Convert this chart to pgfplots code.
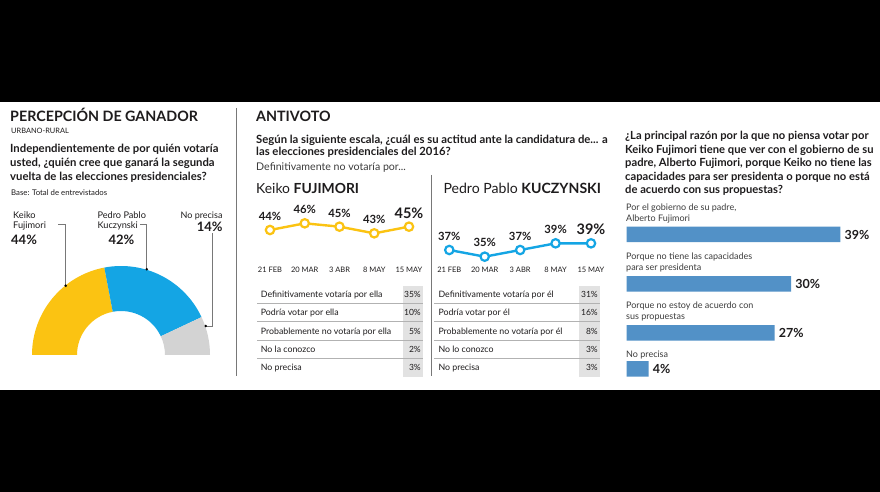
\documentclass[border=0pt]{standalone}
\usepackage{pgfplots}
\pgfplotsset{compat=1.18}
\pgfplotsset{every axis/.append style={/pgf/number format/assume math mode=true}}
\usepackage{pgfplotstable}
\usepackage{fontspec}
\setmainfont{Lato}
\definecolor{kyellow}{RGB}{251,195,18}
\definecolor{pblue}{RGB}{20,165,228}
\definecolor{ngray}{RGB}{211,211,211}
\definecolor{barblue}{RGB}{82,145,199}
\definecolor{txt}{RGB}{30,28,29}
\definecolor{sub}{RGB}{60,60,60}
\definecolor{cellgray}{RGB}{226,226,226}
\definecolor{rulegray}{RGB}{178,178,178}
\definecolor{sepgray}{RGB}{120,120,120}
\newcommand\fs[1]{\fontsize{#1}{#1}\selectfont}

\pgfplotstableread{
name val
Keiko 44
PPK 42
NoPrecisa 14
}\ganador
\pgfplotstableread{
idx val
0 44
1 46
2 45
3 43
4 45
}\keikoline
\pgfplotstableread{
idx val
0 37
1 35
2 37
3 39
4 39
}\ppkline
\pgfplotstableread{
pos val
234.5 39
283.8 30
332.8 27
368.8 4
}\razones

\begin{document}
\begin{tikzpicture}[x=1pt,y=1pt, lbl/.style={anchor=base west, inner sep=0pt, text=txt}, lblr/.style={anchor=base east, inner sep=0pt, text=txt}]
\path[use as bounding box] (0,0) rectangle (880,492);
\fill[black] (0,0) rectangle (880,492);
\fill[white] (0,102) rectangle (880,390);

% ================= LEFT: PERCEPCION DE GANADOR
\node[lbl, font=\fs{14.3}\bfseries] at (10,370) {PERCEPCIÓN DE GANADOR};
\node[lbl, font=\fs{7.4}] at (11,358) {URBANO-RURAL};
\node[lbl, font=\fs{11.3}\bfseries] at (10,339.5) {Independientemente de por quién votaría};
\node[lbl, font=\fs{11.3}\bfseries] at (10,325.5) {usted, ¿quién cree que ganará la segunda};
\node[lbl, font=\fs{11.3}\bfseries] at (10,311.5) {vuelta de las elecciones presidenciales?};
\node[lbl, font=\fs{7.8}] at (11,296) {Base: Total de entrevistados};

\node[lbl, font=\fs{9.2}] at (13,273) {Keiko};
\node[lbl, font=\fs{9.2}] at (13,263.7) {Fujimori};
\node[lbl, font=\fs{13}\bfseries] at (11,247) {44\%};
\node[lbl, font=\fs{9.2}] at (97.3,273) {Pedro Pablo};
\node[lbl, font=\fs{9.2}] at (97.3,263.7) {Kuczynski};
\node[lbl, font=\fs{13}\bfseries] at (108.3,247) {42\%};
\node[lblr, font=\fs{9}] at (222.7,273.7) {No precisa};
\node[lblr, font=\fs{13}\bfseries] at (222.7,260.3) {14\%};

\pgfplotstablegetelem{0}{val}\of\ganador \let\vK\pgfplotsretval
\pgfplotstablegetelem{1}{val}\of\ganador \let\vP\pgfplotsretval
\pgfplotstablegetelem{2}{val}\of\ganador \let\vN\pgfplotsretval
\begin{axis}[at={(32pt,137pt)}, anchor=south west, scale only axis,
  width=178pt, height=89pt, xmin=-1, xmax=1, ymin=0, ymax=1,
  hide axis, clip=false]
  \pgfmathsetmacro\aA{180-1.8*\vK}
  \pgfmathsetmacro\aB{\aA-1.8*\vP}
  \pgfmathsetmacro\aC{\aB-1.8*\vN}
  \fill[kyellow] (axis cs:0,0) ++(180:89pt) arc[start angle=180,end angle=\aA,radius=89pt]
     -- ++(\aA:-45pt) arc[start angle=\aA,end angle=180,radius=44pt] -- cycle;
  \fill[pblue] (axis cs:0,0) ++(\aA:89pt) arc[start angle=\aA,end angle=\aB,radius=89pt]
     -- ++(\aB:-45pt) arc[start angle=\aB,end angle=\aA,radius=44pt] -- cycle;
  \fill[ngray] (axis cs:0,0) ++(\aB:89pt) arc[start angle=\aB,end angle=\aC,radius=89pt]
     -- ++(\aC:-45pt) arc[start angle=\aC,end angle=\aB,radius=44pt] -- cycle;
\end{axis}
\draw[sepgray, line width=0.7pt] (58.3,268) -- (65.7,268) -- (65.7,206.3);
\draw[sepgray, line width=0.7pt] (140,268) -- (146.7,268) -- (146.7,222.7);
\draw[sepgray, line width=0.7pt] (212.3,258.7) -- (212.3,166) -- (205.7,166);
\fill[black] (65.7,206.3) circle (1.4pt) (146.7,222.7) circle (1.4pt) (205.7,166) circle (1.4pt);

% ================= MIDDLE: ANTIVOTO
\draw[sepgray, line width=0.8pt] (236,384) -- (236,116);
\node[lbl, font=\fs{14.3}\bfseries] at (256,370) {ANTIVOTO};
\node[lbl, font=\fs{11.3}\bfseries] at (256,348.5) {Según la siguiente escala, ¿cuál es su actitud ante la candidatura de... a};
\node[lbl, font=\fs{11.3}\bfseries] at (256,336.5) {las elecciones presidenciales del 2016?};
\node[lbl, font=\fs{10.6}, text=sub] at (256,321) {Definitivamente no votaría por...};
\node[lbl, font=\fs{13.9}] at (256,298.7) {Keiko \textbf{FUJIMORI}};
\node[lbl, font=\fs{14.1}] at (443.3,298.7) {Pedro Pablo \textbf{KUCZYNSKI}};
\draw[sepgray, line width=0.8pt] (431.7,317) -- (431.7,116);

% Keiko line
\begin{axis}[at={(270pt,228pt)}, anchor=south west, scale only axis,
  width=139pt, height=47.33pt, xmin=0, xmax=4, ymin=33.8, ymax=48,
  axis line style={draw=none}, major tick length=0pt, tick style={draw=none},
  ytick=\empty, xtick={0,1,2,3,4},
  xticklabels={21 FEB,20 MAR,3 ABR,8 MAY,15 MAY},
  xticklabel style={font=\fs{7.5}, text=txt},
  clip=false]
  \addplot[kyellow, line width=2.4pt, mark=*, mark size=4.2pt,
    mark options={fill=white, draw=kyellow, line width=2.2pt}] table[x=idx,y=val]{\keikoline};
  \addplot[draw=none, mark=none, point meta=y, restrict x to domain=0:3,
    nodes near coords={\pgfmathprintnumber{\pgfplotspointmeta}\%}, nodes near coords align={center},
    every node near coord/.append style={font=\fs{11.3}\bfseries, text=txt, inner sep=0pt, yshift=13.5pt}]
    table[x=idx,y=val]{\keikoline};
  \addplot[draw=none, mark=none, point meta=y, restrict x to domain=4:4,
    nodes near coords={\pgfmathprintnumber{\pgfplotspointmeta}\%}, nodes near coords align={center},
    every node near coord/.append style={font=\fs{14.5}\bfseries, text=txt, inner sep=0pt, yshift=13pt}]
    table[x=idx,y=val]{\keikoline};
\end{axis}

% PPK line
\begin{axis}[at={(449.3pt,228pt)}, anchor=south west, scale only axis,
  width=141.7pt, height=27.33pt, xmin=0, xmax=4, ymin=32.8, ymax=41,
  axis line style={draw=none}, major tick length=0pt, tick style={draw=none},
  ytick=\empty, xtick={0,1,2,3,4},
  xticklabels={21 FEB,20 MAR,3 ABR,8 MAY,15 MAY},
  xticklabel style={font=\fs{7.5}, text=txt},
  clip=false]
  \addplot[pblue, line width=2.4pt, mark=*, mark size=4.2pt,
    mark options={fill=white, draw=pblue, line width=2.2pt}] table[x=idx,y=val]{\ppkline};
  \addplot[draw=none, mark=none, point meta=y, restrict x to domain=0:3,
    nodes near coords={\pgfmathprintnumber{\pgfplotspointmeta}\%}, nodes near coords align={center},
    every node near coord/.append style={font=\fs{11.3}\bfseries, text=txt, inner sep=0pt, yshift=13.8pt}]
    table[x=idx,y=val]{\ppkline};
  \addplot[draw=none, mark=none, point meta=y, restrict x to domain=4:4,
    nodes near coords={\pgfmathprintnumber{\pgfplotspointmeta}\%}, nodes near coords align={center},
    every node near coord/.append style={font=\fs{14.5}\bfseries, text=txt, inner sep=0pt, yshift=14.5pt}]
    table[x=idx,y=val]{\ppkline};
\end{axis}

% Tables
\fill[cellgray] (403,115) rectangle (423,206);
\fill[cellgray] (579.3,115) rectangle (600,206);
\foreach \yy in {188.7,170.3,152,133.7}{
  \draw[rulegray, line width=0.8pt] (257,\yy) -- (423,\yy);
  \draw[rulegray, line width=0.8pt] (434.3,\yy) -- (600,\yy);
}
\begin{scope}[every node/.style={font=\fs{8.8}, text=txt, inner sep=0pt}]
\node[anchor=base west] at (260.7,194.2) {Definitivamente votaría por ella};
\node[anchor=base west] at (260.7,176.0) {Podría votar por ella};
\node[anchor=base west] at (260.7,157.7) {Probablemente no votaría por ella};
\node[anchor=base west] at (260.7,139.4) {No la conozco};
\node[anchor=base west] at (260.7,121.1) {No precisa};
\node[anchor=base west] at (438.3,194.2) {Definitivamente votaría por él};
\node[anchor=base west] at (438.3,176.0) {Podría votar por él};
\node[anchor=base west] at (438.3,157.7) {Probablemente no votaría por él};
\node[anchor=base west] at (438.3,139.4) {No lo conozco};
\node[anchor=base west] at (438.3,121.1) {No precisa};
\end{scope}
\begin{scope}[every node/.style={font=\fs{8.5}, text=txt, inner sep=0pt, anchor=base east}]
\node at (421,194.2) {35\%};
\node at (421,176.0) {10\%};
\node at (421,157.7) {5\%};
\node at (421,139.4) {2\%};
\node at (421,121.1) {3\%};
\node at (598,194.2) {31\%};
\node at (598,176.0) {16\%};
\node at (598,157.7) {8\%};
\node at (598,139.4) {3\%};
\node at (598,121.1) {3\%};
\end{scope}

% ================= RIGHT
\node[lbl, font=\fs{11.2}\bfseries] at (625,352) {¿La principal razón por la que no piensa votar por};
\node[lbl, font=\fs{11.2}\bfseries] at (625,338.5) {Keiko Fujimori tiene que ver con el gobierno de su};
\node[lbl, font=\fs{11.2}\bfseries] at (625,325) {padre, Alberto Fujimori, porque Keiko no tiene las};
\node[lbl, font=\fs{11.2}\bfseries] at (625,311.5) {capacidades para ser presidenta o porque no está};
\node[lbl, font=\fs{11.2}\bfseries] at (625,298) {de acuerdo con sus propuestas?};

\begin{scope}[every node/.style={font=\fs{9}, text=sub, inner sep=0pt, anchor=base west}]
\node at (626,281.5) {Por el gobierno de su padre,};
\node at (626,270.5) {Alberto Fujimori};
\node at (626,232) {Porque no tiene las capacidades};
\node at (626,221) {para ser presidenta};
\node at (626,183.7) {Porque no estoy de acuerdo con};
\node at (626,172.7) {sus propuestas};
\node at (626,134.7) {No precisa};
\end{scope}

\begin{axis}[at={(626.7pt,112pt)}, anchor=south west, scale only axis,
  width=246.6pt, height=160pt, xmin=0, xmax=45, ymin=220, ymax=380,
  y dir=reverse, hide axis, clip=false]
  \addplot[xbar, bar width=15.5pt, fill=barblue, draw=none, point meta=x,
    nodes near coords={\pgfmathprintnumber{\pgfplotspointmeta}\%},
    nodes near coords align={horizontal},
    every node near coord/.append style={font=\fs{12.5}\bfseries, text=txt, inner sep=0pt, xshift=4pt}]
    table[x=val, y=pos]{\razones};
\end{axis}
\end{tikzpicture}
\end{document}
